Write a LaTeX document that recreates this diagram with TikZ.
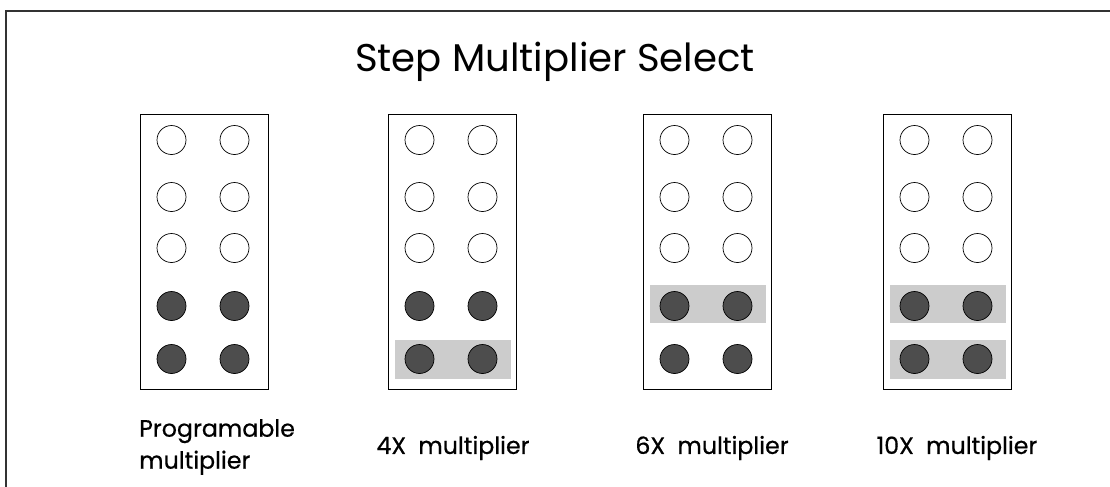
\documentclass[tikz,border=0pt]{standalone}
\usepackage{fontspec}
\setmainfont{Poppins}
\newfontfamily\labelfont{Poppins}[FakeBold=0.6]
\definecolor{dotgray}{HTML}{4D4D4D}
\definecolor{selgray}{HTML}{CCCCCC}
\tikzset{
  jmp/.style={circle,draw=black,thin,inner sep=0pt,minimum size=0.58cm},
  block/.style={draw=black,thin,fill=white},
  lbl/.style={font=\labelfont\fontsize{13.5}{18.2}\selectfont}
}
\begin{document}
\begin{tikzpicture}[x=0.02cm,y=-0.02cm]
  \useasboundingbox (0,0) rectangle (1110,487);
  \draw[black!80,line width=0.7pt] (6,487) -- (6,11) -- (1110,11);
  \node[font=\fontsize{22}{26}\selectfont] (title) at (555,62) {Step Multiplier Select};
  % jumper blocks
  \foreach \blk/\bx in {prog/140,four/388,six/643,ten/883}{
    \draw[block] (\bx,114) rectangle ++(128,275);
  }
  % selected rows
  \fill[selgray] (395,340) rectangle ++(116,39);
  \fill[selgray] (650,285) rectangle ++(116,38);
  \fill[selgray] (890,285) rectangle ++(116,38);
  \fill[selgray] (890,340) rectangle ++(116,39);
  % jumpers, the lower two rows are set
  \foreach \blk/\bx in {prog/140,four/388,six/643,ten/883}{
    \foreach \ry [count=\r] in {140,197,248,306,359}{
      \ifnum\r>3 \def\fc{dotgray}\else\def\fc{white}\fi
      \node[jmp,fill=\fc] (\blk-\r-1) at (\bx+31.5,\ry) {};
      \node[jmp,fill=\fc] (\blk-\r-2) at (\bx+94.5,\ry) {};
    }
  }
  \node[lbl,anchor=west,align=left] (lprog) at (133,447) {Programable\\multiplier};
  \node[lbl] (lfour) at (453,448) {4X\hspace{7pt}multiplier};
  \node[lbl] (lsix) at (712,448) {6X\hspace{7pt}multiplier};
  \node[lbl] (lten) at (957,448) {10X\hspace{7pt}multiplier};
\end{tikzpicture}
\end{document}
